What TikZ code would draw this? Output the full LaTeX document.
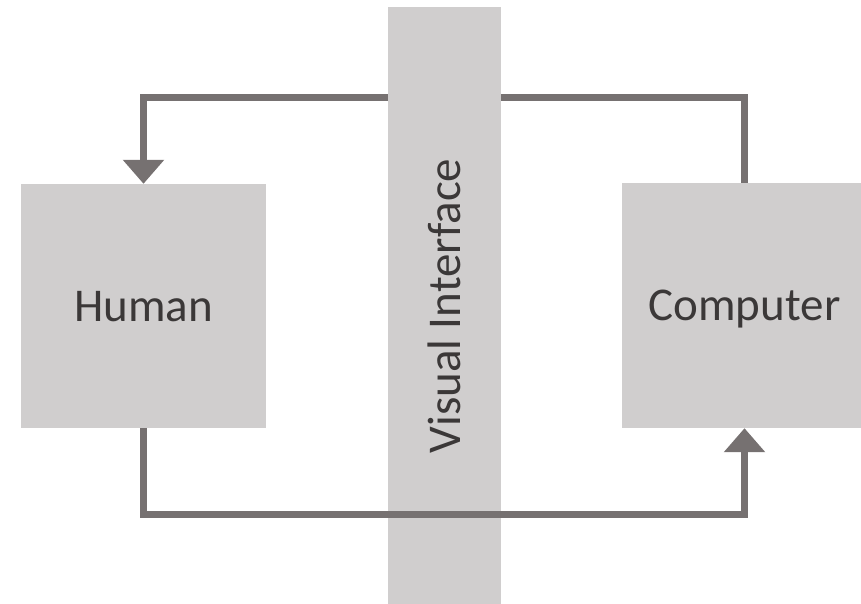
\documentclass[tikz,border=0pt]{standalone}
\usepackage{fontspec}
\setmainfont{Carlito}
\usetikzlibrary{arrows.meta}
\definecolor{boxgray}{HTML}{D0CECE}
\definecolor{linegray}{HTML}{767171}
\definecolor{textgray}{HTML}{3B3838}
\tikzset{
  block/.style={fill=boxgray, inner sep=0pt, text=textgray, text depth=0pt,
    font=\fontsize{47}{56}\selectfont},
  flow/.style={draw=linegray, line width=7.5pt,
    -{Triangle[length=24pt,width=40pt]}},
}
\begin{document}
\begin{tikzpicture}[x=1pt,y=-1pt]
  \clip (0,0) rectangle (861,604);%

  % Drawing box human
  \node [block, minimum width=245pt, minimum height=244pt] (human) at (143.5,306) {Human};%

  % Drawing box computer
  \node [block, minimum width=245pt, minimum height=245pt] (computer) at (744.5,305.5) {Computer};%

  % Marking points where the loop crosses the interface
  \coordinate (upper) at (444.5,97.5);%
  \coordinate (lower) at (444.5,514.5);%

  % Drawing upper arrow (runs under the interface)
  \draw [flow] (computer.north) |- (upper) -| (human.north);%

  % Drawing the interface bar
  \node [block, minimum width=598pt, minimum height=113pt, rotate=90] (interface) at (444.5,306) {Visual Interface};%

  % Drawing lower arrow (runs over the interface)
  \draw [flow] (human.south) |- (lower) -| (computer.south);%
\end{tikzpicture}
\end{document}
